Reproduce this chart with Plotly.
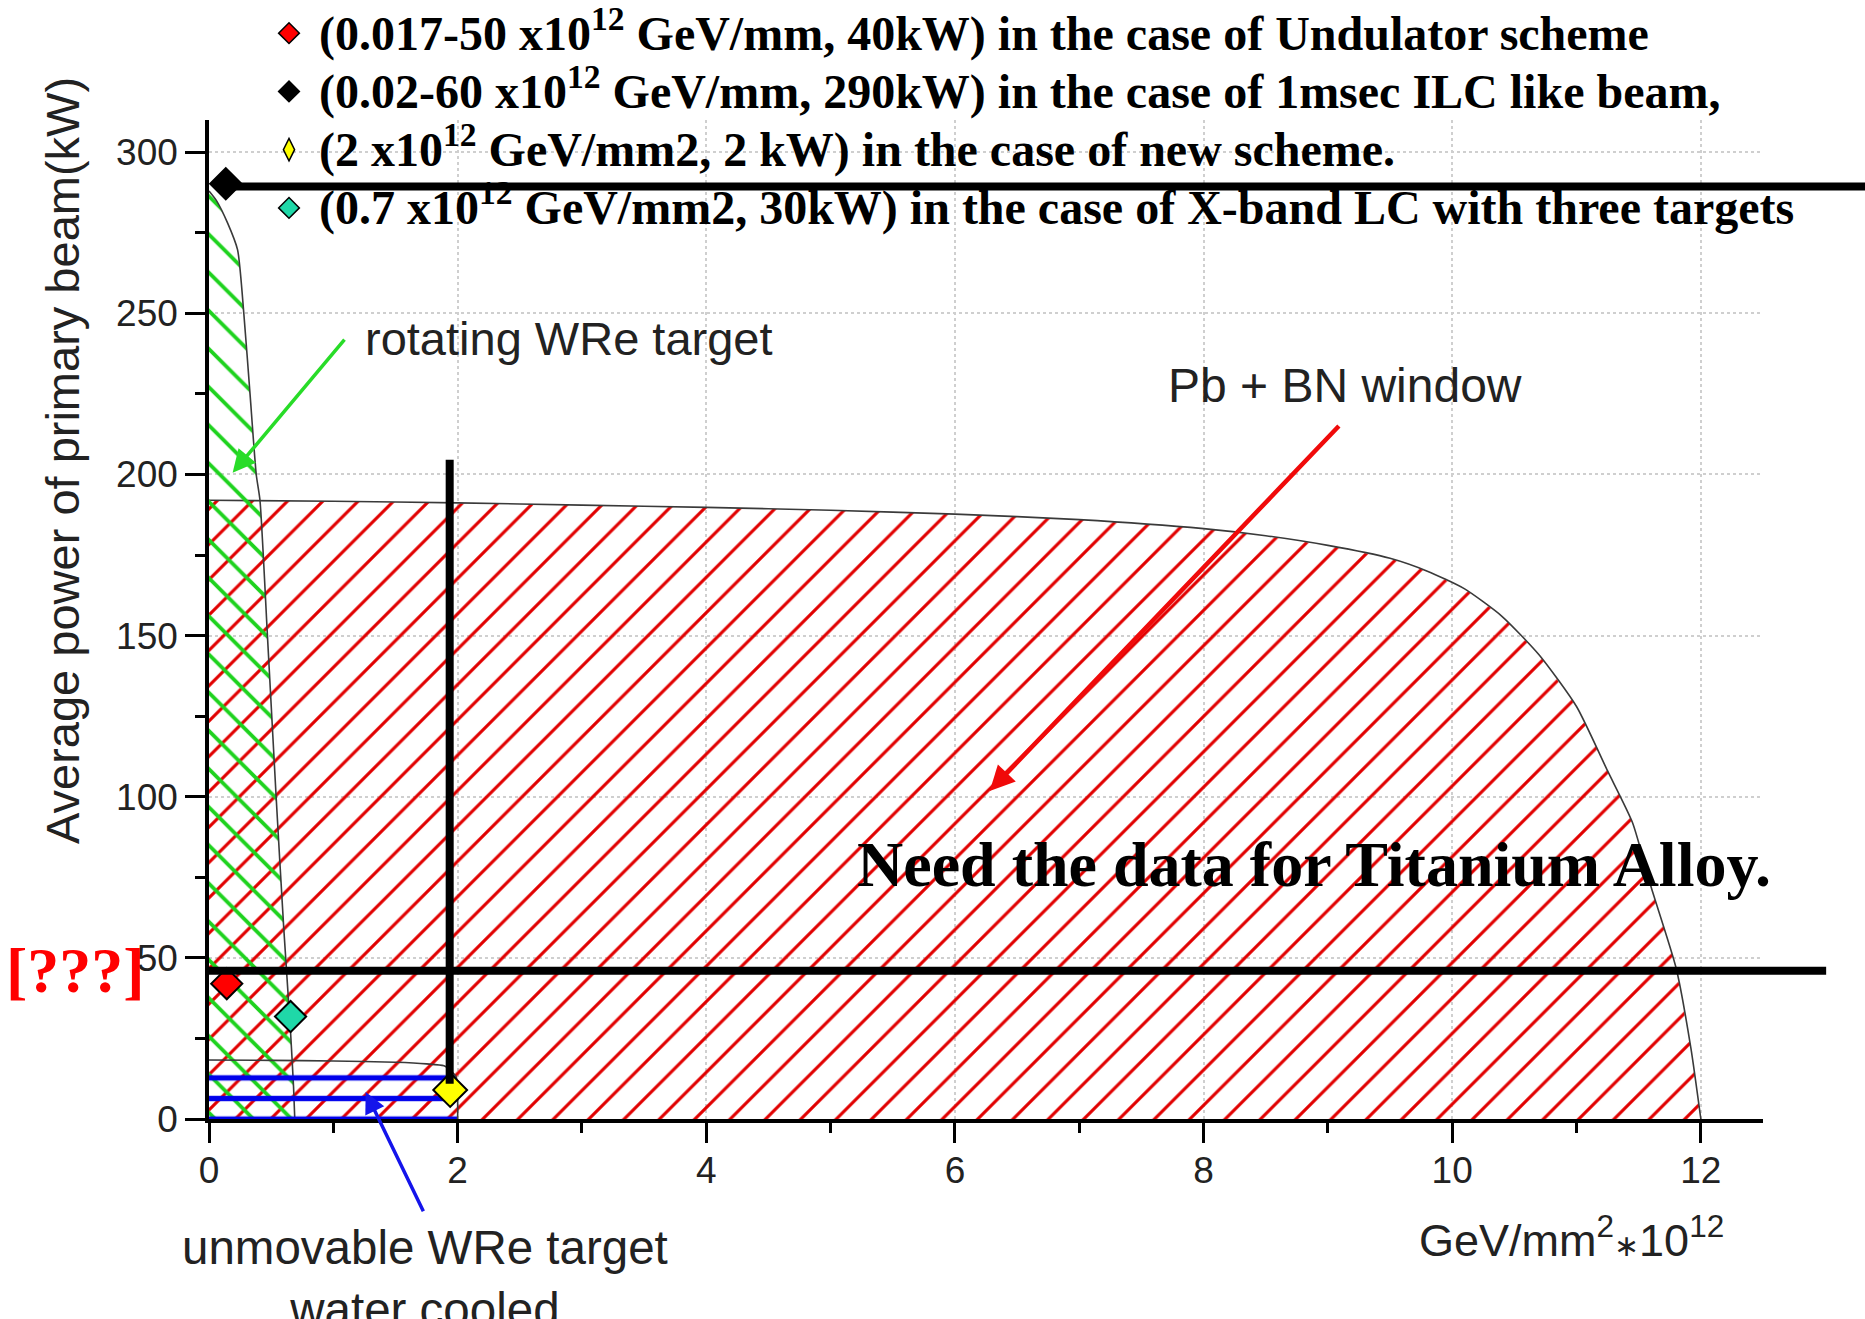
import plotly.graph_objects as go

# ---------------- data ----------------
# Pb + BN window limit curve (GeV/mm^2*1e12 , kW)
pb_x = [0, 1, 2, 3, 4, 5, 6, 7, 8, 8.5, 9, 9.5, 9.8, 10.1, 10.4, 10.7, 11.0, 11.25, 11.45, 11.6, 11.8, 11.92, 12.0]
pb_y = [192, 191.7, 191.2, 190.5, 189.8, 188.9, 187.7, 186, 183.2, 181, 178, 174, 170, 164.5, 156, 144, 128, 108, 92, 72, 47, 22, 0]

# rotating WRe target limit curve
rot_x = [0, 0.06, 0.15, 0.23, 0.28, 0.33, 0.38, 0.41, 0.47, 0.54, 0.60, 0.656, 0.68, 0.69]
rot_y = [288, 285, 278, 269.7, 250, 225, 200, 192, 150, 100, 60, 27, 10, 0]

# unmovable (water cooled) WRe target limit curve
unm_x = [0, 0.5, 1.0, 1.5, 1.75, 1.89, 1.95, 1.99, 2.0, 2.0]
unm_y = [18.3, 18.2, 18.0, 17.6, 17.1, 16.5, 14.8, 12.9, 6, 0]

# operating points
pt_names = [
    "(0.017-50 x10<sup>12</sup> GeV/mm, 40kW) in the case of Undulator scheme",
    "(0.02-60 x10<sup>12</sup> GeV/mm, 290kW) in the case of 1msec ILC like beam,",
    "(2 x10<sup>12</sup> GeV/mm2, 2 kW) in the case of new scheme.",
    "(0.7 x10<sup>12</sup> GeV/mm2, 30kW) in the case of X-band LC with three targets",
]
pt_x = [0.143, 0.135, 1.94, 0.656]
pt_y = [42.0, 290.2, 9.0, 31.8]
pt_colors = ["#ff0000", "#000000", "#ffff00", "#1fd8a8"]
pt_symbols = ["diamond", "diamond", "diamond", "diamond"]
pt_sizes = [24, 24, 26, 24]
legend_symbols = ["diamond", "diamond", "diamond-tall", "diamond"]

# hand-drawn marking lines (data units)
upper_line_y = 289.4
upper_line_xend = 13.35
lower_line_y = 46.0           # the "[???]" level
lower_line_xend = 13.02
vert_line_x = 1.936           # at the new-scheme point
vert_line_top = 205.0
vert_line_bottom = 10.9

X_RANGE = [0, 12.5]
Y_RANGE = [0, 310]

# ---------------- figure ----------------
W, H = 1865, 1319
ML, MR, MT, MB = 209, 102, 120, 200
PW = W - ML - MR
PH = H - MT - MB


def px_to_paper_x(px):
    return (px - ML) / PW


def px_to_paper_y(py):
    return (H - MB - py) / PH


SANS = "Liberation Sans, Arial, sans-serif"
SERIF = "Liberation Serif, Times New Roman, serif"
OUTLINE = "#3a3a3a"

fig = go.Figure()


def region(xs, ys, shape, color, size, solidity):
    # hatched fill (linear edges)
    fig.add_trace(go.Scatter(
        x=[0] + xs, y=[0] + ys, mode="lines", fill="toself",
        line=dict(color="rgba(0,0,0,0)", width=0),
        fillcolor="rgba(0,0,0,0)",
        fillpattern=dict(shape=shape, fgcolor=color, fgopacity=1, size=size, solidity=solidity),
        showlegend=False, hoverinfo="skip"))
    # smooth outline
    fig.add_trace(go.Scatter(
        x=xs, y=ys, mode="lines",
        line=dict(color=OUTLINE, width=1.6, shape="spline", smoothing=0.6),
        showlegend=False, hoverinfo="skip"))


region(pb_x, pb_y, "/", "rgb(225,0,0)", 25, 0.125)
region(rot_x, rot_y, "\\", "rgb(30,210,30)", 27, 0.14)
region(unm_x, unm_y, "-", "rgb(0,0,235)", 20.6, 0.26)

# operating points on the chart
for x, y, c, s, sz in zip(pt_x, pt_y, pt_colors, pt_symbols, pt_sizes):
    fig.add_trace(go.Scatter(
        x=[x], y=[y], mode="markers", showlegend=False,
        marker=dict(symbol=s, size=sz, color=c, line=dict(color="black", width=2)),
        cliponaxis=False, hoverinfo="skip"))

# legend entries for the operating points
for name, c, s in zip(pt_names, pt_colors, legend_symbols):
    fig.add_trace(go.Scatter(
        x=[None], y=[None], mode="markers",
        name="<span style='font-size:48px'><b>" + name + "</b></span>",
        marker=dict(symbol=s, size=16, color=c, line=dict(color="black", width=1.5)),
        hoverinfo="skip"))

annotations = []

# thick black marking lines (drawn as head-less arrows so they may leave the axes)
line_style = dict(text="", showarrow=True, arrowhead=0, arrowwidth=8, arrowcolor="black",
                  axref="x", ayref="y", xref="x", yref="y", standoff=0, startstandoff=0)
annotations.append(dict(x=pt_x[1], y=upper_line_y, ax=upper_line_xend, ay=upper_line_y, **line_style))
annotations.append(dict(x=X_RANGE[0], y=lower_line_y, ax=lower_line_xend, ay=lower_line_y, **line_style))
annotations.append(dict(x=vert_line_x, y=vert_line_bottom, ax=vert_line_x, ay=vert_line_top, **line_style))

# pointer arrows
arrow_style = dict(text="", showarrow=True, arrowhead=2,
                   axref="x", ayref="y", xref="x", yref="y", standoff=0, startstandoff=0)
annotations.append(dict(x=0.19, y=200.5, ax=1.10, ay=242.3, arrowsize=1.3, arrowwidth=3.5,
                        arrowcolor="rgb(40,220,40)", **arrow_style))
annotations.append(dict(x=6.28, y=101.8, ax=9.10, ay=215.5, arrowsize=1.1, arrowwidth=4.5,
                        arrowcolor="rgb(240,10,10)", **arrow_style))
annotations.append(dict(x=1.26, y=8.4, ax=1.73, ay=-29.1, arrowsize=1.2, arrowwidth=3.5,
                        arrowcolor="rgb(20,20,235)", **arrow_style))

# region labels
annotations.append(dict(
    x=1.236, y=242.1, xref="x", yref="y", showarrow=False,
    text="rotating WRe target", xanchor="left", yanchor="middle",
    font=dict(family=SANS, size=47, color="#222")))
annotations.append(dict(
    x=9.14, y=227.7, xref="x", yref="y", showarrow=False,
    text="Pb + BN window", xanchor="center", yanchor="middle",
    font=dict(family=SANS, size=48, color="#222")))
annotations.append(dict(
    x=px_to_paper_x(424.6), y=px_to_paper_y(1278), xref="paper", yref="paper", showarrow=False,
    text="unmovable WRe target<br>water cooled", xanchor="center", yanchor="middle",
    font=dict(family=SANS, size=47.5, color="#222")))

# slide remarks
annotations.append(dict(
    x=5.2, y=78.9, xref="x", yref="y", showarrow=False,
    text="<b>Need the data for Titanium Alloy.</b>", xanchor="left", yanchor="middle",
    font=dict(family=SERIF, size=64, color="black")))
annotations.append(dict(
    x=px_to_paper_x(4), y=lower_line_y, xref="paper", yref="y", showarrow=False,
    text="<b>[???]</b>", xanchor="left", yanchor="middle",
    font=dict(family=SERIF, size=64, color="#ff0000")))

# axis titles
annotations.append(dict(
    x=px_to_paper_x(63), y=204.2, xref="paper", yref="y", showarrow=False,
    text="Average power of primary beam(kW)", textangle=-90,
    xanchor="center", yanchor="middle",
    font=dict(family=SANS, size=47, color="#222")))
annotations.append(dict(
    x=px_to_paper_x(1571), y=px_to_paper_y(1237), xref="paper", yref="paper", showarrow=False,
    text="GeV/mm<sup>2</sup><span style='font-size:30px'>\u2217</span>10<sup>12</sup>",
    xanchor="center", yanchor="middle",
    font=dict(family=SANS, size=45, color="#222")))

fig.update_layout(
    width=W, height=H,
    margin=dict(l=ML, r=MR, t=MT, b=MB, autoexpand=False),
    paper_bgcolor="white", plot_bgcolor="white",
    annotations=annotations,
    showlegend=True,
    legend=dict(
        x=px_to_paper_x(259), y=px_to_paper_y(-1), xanchor="left", yanchor="top",
        bgcolor="rgba(0,0,0,0)", borderwidth=0, itemwidth=50, tracegroupgap=0,
        font=dict(family=SERIF, size=42.5, color="black"),
        itemsizing="trace"),
    xaxis=dict(
        range=X_RANGE, dtick=2, tick0=0, showline=True, linecolor="black", linewidth=3.5,
        ticks="outside", ticklen=20, tickwidth=3, tickcolor="black",
        tickfont=dict(family=SANS, size=37, color="#222"), ticklabelstandoff=-4,
        showgrid=True, gridcolor="#cfcfcf", gridwidth=1.5, griddash="dot",
        zeroline=False, mirror=False,
        minor=dict(dtick=1, ticks="outside", ticklen=10, tickwidth=3, tickcolor="black", showgrid=False)),
    yaxis=dict(
        range=Y_RANGE, dtick=50, tick0=0, showline=True, linecolor="black", linewidth=3.5,
        ticks="outside", ticklen=20, tickwidth=3, tickcolor="black",
        tickfont=dict(family=SANS, size=37, color="#222"),
        showgrid=True, gridcolor="#cfcfcf", gridwidth=1.5, griddash="dot",
        zeroline=False, mirror=False,
        minor=dict(dtick=25, ticks="outside", ticklen=10, tickwidth=3, tickcolor="black", showgrid=False)),
)

fig.write_html("out.html", config={"displayModeBar": False},
               post_script="document.body.style.margin='0px';")
